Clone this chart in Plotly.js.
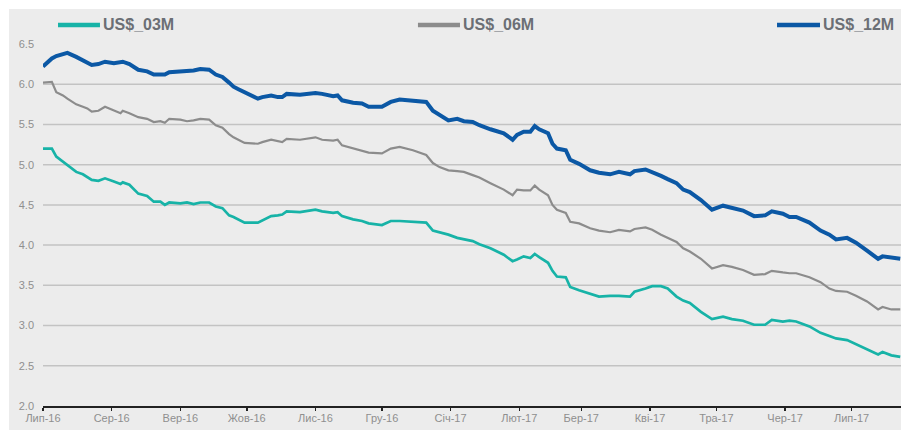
<!DOCTYPE html>
<html>
<head>
<meta charset="utf-8">
<script src="https://cdn.plot.ly/plotly-3.0.1.min.js"></script>
<style>
html,body{margin:0;padding:0;background:#ffffff;}
#chart{width:901px;height:430px;}
</style>
</head>
<body>
<div id="chart"></div>
<script>
const dates = [
"2016-07-01","2016-07-05","2016-07-07","2016-07-10","2016-07-12","2016-07-16","2016-07-19","2016-07-21","2016-07-23","2016-07-26",
"2016-07-29","2016-08-02","2016-08-05","2016-08-06","2016-08-09","2016-08-13","2016-08-17","2016-08-20","2016-08-23","2016-08-25",
"2016-08-27","2016-09-01","2016-09-04","2016-09-07","2016-09-10","2016-09-14","2016-09-17","2016-09-20","2016-09-23","2016-09-25",
"2016-09-27","2016-09-30","2016-10-06","2016-10-08","2016-10-12","2016-10-15","2016-10-17","2016-10-19","2016-10-25","2016-11-01",
"2016-11-04","2016-11-09","2016-11-11","2016-11-13","2016-11-18","2016-11-22","2016-11-25","2016-12-01","2016-12-05","2016-12-09",
"2016-12-15","2016-12-21","2016-12-24","2016-12-27","2016-12-31","2017-01-04","2017-01-07","2017-01-11","2017-01-14","2017-01-19",
"2017-01-25","2017-01-29","2017-01-31","2017-02-03","2017-02-06","2017-02-08","2017-02-10","2017-02-14","2017-02-16","2017-02-18",
"2017-02-22","2017-02-24","2017-02-28","2017-03-05","2017-03-09","2017-03-14","2017-03-18","2017-03-23","2017-03-25","2017-03-30",
"2017-04-02","2017-04-06","2017-04-09","2017-04-13","2017-04-16","2017-04-19","2017-04-24","2017-04-29","2017-05-04","2017-05-08",
"2017-05-13","2017-05-18","2017-05-23","2017-05-26","2017-05-31","2017-06-03","2017-06-06","2017-06-12","2017-06-17","2017-06-21",
"2017-06-24","2017-06-29","2017-07-03","2017-07-08","2017-07-13","2017-07-15","2017-07-19","2017-07-23"
];

const us03m = [
5.20,5.20,5.10,5.04,5.00,4.91,4.88,4.85,4.81,4.80,
4.83,4.79,4.76,4.78,4.75,4.64,4.61,4.54,4.54,4.50,
4.53,4.52,4.53,4.51,4.53,4.53,4.48,4.46,4.37,4.35,
4.32,4.28,4.28,4.31,4.36,4.37,4.38,4.42,4.41,4.44,
4.42,4.40,4.41,4.36,4.32,4.30,4.27,4.25,4.30,4.30,
4.29,4.28,4.18,4.16,4.13,4.09,4.07,4.05,4.01,3.96,
3.88,3.80,3.82,3.86,3.84,3.89,3.85,3.78,3.68,3.61,
3.60,3.48,3.44,3.39,3.36,3.37,3.37,3.36,3.42,3.46,
3.49,3.49,3.46,3.36,3.31,3.28,3.17,3.08,3.11,3.08,
3.06,3.01,3.01,3.07,3.05,3.06,3.05,2.99,2.91,2.87,
2.84,2.82,2.77,2.71,2.64,2.67,2.63,2.61
];

const us06m = [
6.02,6.03,5.90,5.86,5.82,5.75,5.72,5.70,5.66,5.67,
5.72,5.67,5.64,5.67,5.64,5.59,5.57,5.53,5.54,5.52,
5.57,5.56,5.54,5.55,5.57,5.56,5.49,5.46,5.38,5.34,
5.31,5.27,5.26,5.28,5.31,5.29,5.28,5.32,5.31,5.34,
5.31,5.30,5.31,5.24,5.20,5.17,5.15,5.14,5.20,5.22,
5.18,5.12,5.02,4.97,4.93,4.92,4.91,4.87,4.84,4.77,
4.69,4.62,4.69,4.68,4.68,4.74,4.69,4.62,4.50,4.44,
4.40,4.29,4.27,4.21,4.18,4.16,4.19,4.17,4.20,4.22,
4.19,4.13,4.09,4.04,3.96,3.92,3.83,3.71,3.75,3.73,
3.69,3.63,3.64,3.68,3.66,3.65,3.65,3.60,3.54,3.46,
3.43,3.42,3.37,3.30,3.20,3.23,3.20,3.20
];

const us12m = [
6.22,6.32,6.35,6.37,6.39,6.34,6.30,6.28,6.24,6.25,
6.28,6.26,6.28,6.28,6.25,6.18,6.16,6.12,6.12,6.12,
6.15,6.16,6.17,6.17,6.19,6.18,6.12,6.09,6.02,5.97,
5.94,5.90,5.82,5.84,5.86,5.84,5.84,5.88,5.87,5.89,
5.88,5.85,5.86,5.80,5.77,5.76,5.72,5.72,5.78,5.81,
5.80,5.78,5.67,5.62,5.55,5.57,5.54,5.53,5.49,5.44,
5.39,5.31,5.37,5.41,5.41,5.48,5.44,5.39,5.26,5.20,
5.18,5.06,5.01,4.93,4.90,4.88,4.91,4.88,4.92,4.94,
4.91,4.86,4.82,4.77,4.69,4.66,4.56,4.44,4.49,4.46,
4.43,4.36,4.37,4.42,4.39,4.35,4.35,4.28,4.18,4.13,
4.07,4.09,4.03,3.93,3.83,3.86,3.84,3.83
];

const seriesNames = ["US$_03M","US$_06M","US$_12M"];
const tickDates = ["2016-07-01","2016-08-01","2016-09-01","2016-10-01","2016-11-01","2016-12-01","2017-01-01","2017-02-01","2017-03-01","2017-04-01","2017-05-01","2017-06-01","2017-07-01"];
const tickLabels = ["Лип-16","Сер-16","Вер-16","Жов-16","Лис-16","Гру-16","Січ-17","Лют-17","Бер-17","Кві-17","Тра-17","Чер-17","Лип-17"];
const yTicks = [2.0,2.5,3.0,3.5,4.0,4.5,5.0,5.5,6.0,6.5];
const gridLevels = [2.5,3.0,3.5,4.0,4.5,5.0,5.5,6.0];

const colors = ["#17b3a7","#8c8c8c","#0b58a5"];
const widths = [2.7,2.2,4];

const traces = [us03m, us06m, us12m].map((vals,i)=>({
  type:"scatter", mode:"lines", x:dates, y:vals, name:seriesNames[i],
  line:{color:colors[i], width:widths[i]}, hoverinfo:"skip"
}));

const shapes = [{
  type:"rect", xref:"paper", yref:"paper", x0:-0.0396, x1:1.01, y0:-0.08, y1:1.0967,
  fillcolor:"#ececec", line:{width:0}, layer:"below"
}];
gridLevels.forEach(v=>shapes.push({
  type:"line", xref:"paper", yref:"y", x0:0, x1:1, y0:v, y1:v,
  line:{color:"#c3c3c3", width:1.5}, layer:"below"
}));

// legend
const legX = [[0.0175,0.0664],[0.437,0.486],[0.8555,0.9056]];
const annotations = [];
legX.forEach((p,i)=>{
  shapes.push({type:"line", xref:"paper", yref:"paper", x0:p[0], x1:p[1], y0:1.0525, y1:1.0525,
    line:{color:colors[i], width:4.5}});
  annotations.push({xref:"paper", yref:"paper", x:p[1]+0.001, y:1.0525, xanchor:"left", yanchor:"middle",
    text:"<b>"+seriesNames[i]+"</b>", showarrow:false,
    font:{family:"Liberation Sans, Arial, sans-serif", size:16, color:"#6b6f75"}});
});

const layout = {
  width:901, height:430,
  margin:{l:43, r:0, t:44, b:24, pad:0},
  paper_bgcolor:"#ffffff", plot_bgcolor:"rgba(0,0,0,0)",
  showlegend:false,
  font:{family:"Liberation Sans, Arial, sans-serif", color:"#8f8f8f", size:11},
  xaxis:{
    type:"date", range:["2016-07-01","2017-07-23 08:00"],
    tickvals:tickDates, ticktext:tickLabels,
    ticks:"outside", ticklen:3, tickwidth:1.5, tickcolor:"#222",
    ticklabelstandoff:-2,
    showline:true, linecolor:"#222", linewidth:1.5,
    showgrid:false, zeroline:false,
    tickfont:{size:11, color:"#8f8f8f"}
  },
  yaxis:{
    range:[2,6.5], tickvals:yTicks, tickformat:".1f",
    showgrid:false, zeroline:false, showline:false, ticks:"",
    ticklabelstandoff:8,
    tickfont:{size:11, color:"#8f8f8f"}
  },
  shapes:shapes,
  annotations:annotations
};

Plotly.newPlot("chart", traces, layout, {displayModeBar:false, staticPlot:true});
</script>
</body>
</html>
